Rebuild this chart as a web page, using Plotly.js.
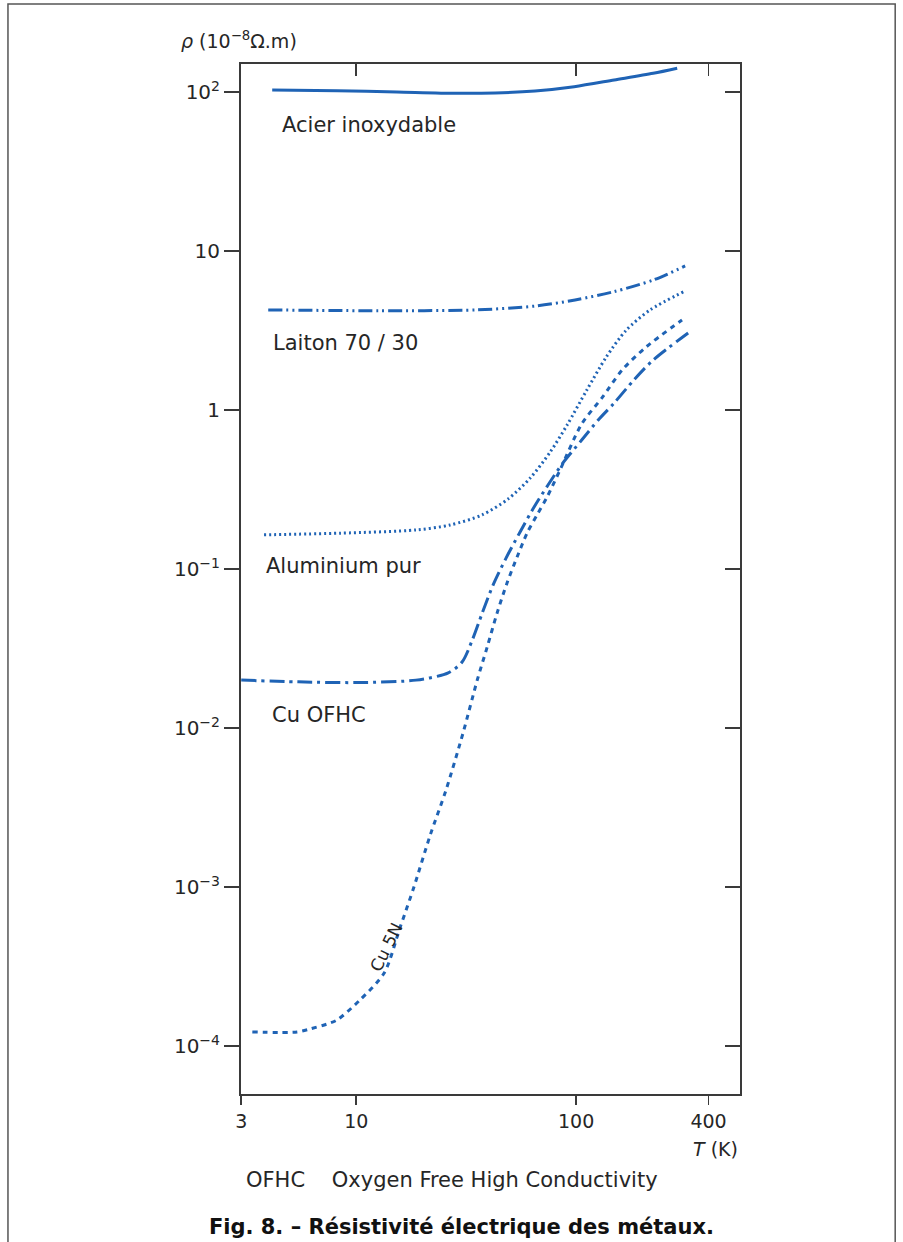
<!DOCTYPE html>
<html>
<head>
<meta charset="utf-8">
<script src="https://cdn.plot.ly/plotly-3.0.1.min.js"></script>
<style>html,body{margin:0;padding:0;background:#fff;}</style>
</head>
<body>
<div id="chart" style="width:903px;height:1242px;"></div>
<script>
// Temperature T (K) and resistivity rho (10^-8 Ohm.m)
const acierT   = [4.15, 8.2, 15.3, 28.5, 42.8, 65, 98, 149, 224, 288];
const acierRho = [103, 101.9, 100, 98.1, 98.6, 101.5, 108, 119, 131, 141];

const laitonT   = [3.98, 12.6, 35.3, 65.5, 98.9, 148.7, 225, 313];
const laitonRho = [4.26, 4.21, 4.26, 4.51, 4.92, 5.55, 6.58, 8.05];

const alT   = [3.81, 8.45, 18.7, 26.7, 37.4, 49.1, 61.8, 76.2, 91, 112, 137, 169, 217, 313];
const alRho = [0.164, 0.168, 0.176, 0.189, 0.219, 0.276, 0.373, 0.544, 0.805, 1.34, 2.15, 3.18, 4.26, 5.6];

const ofhcT   = [3.0, 5.45, 10.1, 18.7, 26.2, 30.3, 33.7, 37.4, 41.9, 48.0, 55.6, 64.4, 74.5, 86.3, 106, 126, 149, 183, 224, 323];
const ofhcRho = [0.0200, 0.0195, 0.0193, 0.0200, 0.0222, 0.026, 0.0357, 0.0528, 0.0792, 0.117, 0.171, 0.2455, 0.3375, 0.457, 0.647, 0.865, 1.107, 1.545, 2.06, 3.05];

const cu5nT   = [3.37, 5.39, 6.17, 7.38, 8.19, 10.4, 13.4, 15.8, 18.3, 21.7, 25.6, 30.6, 35.5, 39.4, 43.7, 48.5, 53.9, 59.8, 66.4, 73.8, 84.5, 106, 132, 162, 208, 303];
const cu5nRho = [1.225e-4, 1.225e-4, 1.28e-4, 1.375e-4, 1.458e-4, 1.946e-4, 2.877e-4, 5.52e-4, 1.0e-3, 2.12e-3, 4.07e-3, 9.3e-3, 0.0200, 0.0323, 0.0528, 0.0816, 0.119, 0.168, 0.219, 0.284, 0.42, 0.817, 1.208, 1.786, 2.49, 3.68];

const xTickVals = [3, 10, 100, 400];
const xTickText = ['3', '10', '100', '400'];
const yTickVals = [1e-4, 1e-3, 1e-2, 1e-1, 1, 10, 100];
const yTickText = ['10<sup>−4</sup>', '10<sup>−3</sup>', '10<sup>−2</sup>', '10<sup>−1</sup>', '1', '10', '10<sup>2</sup>'];

const BLUE = '#1f63b5';
const FONT = 'DejaVu Sans, Liberation Sans, Arial, sans-serif';
const TXT = '#262626';
const XR = [Math.log10(3) - 0.001, 2.745];
const YR = [-4.302, 2.176];

function line(x, y, dash, name) {
  return {x: x, y: y, type: 'scatter', mode: 'lines', name: name,
    line: {color: BLUE, width: 3, dash: dash, shape: 'spline', smoothing: 0.8},
    hoverinfo: 'x+y+name'};
}

const traces = [
  line(acierT, acierRho, 'solid', 'Acier inoxydable'),
  line(laitonT, laitonRho, '14px,4px,2px,4px,2px,4px', 'Laiton 70 / 30'),
  line(alT, alRho, '2px,3px', 'Aluminium pur'),
  line(ofhcT, ofhcRho, '15px,5px,3px,5px', 'Cu OFHC'),
  line(cu5nT, cu5nRho, '5px,5px', 'Cu 5N'),
  {x: [], y: [], xaxis: 'x2', yaxis: 'y2', type: 'scatter', mode: 'lines', showlegend: false, hoverinfo: 'skip'}
];

const axisCommon = {showgrid: false, zeroline: false, showline: true, linecolor: '#3a3a3a', linewidth: 2,
  tickcolor: '#3a3a3a', tickwidth: 1.5};

const layout = {
  width: 903, height: 1242,
  margin: {l: 241, r: 163, t: 64, b: 148},
  paper_bgcolor: '#fff', plot_bgcolor: '#fff',
  showlegend: false,
  font: {family: FONT, color: TXT, size: 19},
  title: {text: '<b>Fig. 8. – Résistivité électrique des métaux.</b>',
    x: 0.511, xref: 'container', xanchor: 'center', y: 0.012, yref: 'container', yanchor: 'middle',
    font: {family: FONT, size: 21, color: '#111'}},
  xaxis: Object.assign({}, axisCommon, {type: 'log', range: XR, tickvals: xTickVals, ticktext: xTickText,
    ticks: 'outside', ticklen: 9, mirror: true, tickfont: {size: 19, color: TXT}}),
  yaxis: Object.assign({}, axisCommon, {type: 'log', range: YR, tickvals: yTickVals, ticktext: yTickText,
    ticks: 'outside', ticklen: 15, mirror: true, tickfont: {size: 20, color: TXT}}),
  xaxis2: Object.assign({}, axisCommon, {type: 'log', range: XR, tickvals: [10, 100, 400], overlaying: 'x', side: 'top',
    ticks: 'inside', ticklen: 12, showticklabels: false}),
  yaxis2: Object.assign({}, axisCommon, {type: 'log', range: YR, tickvals: yTickVals, overlaying: 'y', side: 'right',
    ticks: 'inside', ticklen: 15, showticklabels: false}),
  annotations: [
    {text: '<i>ρ</i> (10<sup>−8</sup>Ω.m)', xref: 'paper', yref: 'paper', x: -0.124, y: 1.0233,
      xanchor: 'left', yanchor: 'middle', showarrow: false, font: {size: 19, color: TXT}},
    {text: '<i>T</i> (K)', xref: 'paper', yref: 'paper', x: 1.0, y: -0.0535,
      xanchor: 'right', yanchor: 'middle', showarrow: false, font: {size: 19, color: TXT}},
    {text: 'OFHC    Oxygen Free High Conductivity', xref: 'paper', yref: 'paper', x: 0.423, y: -0.0835,
      xanchor: 'center', yanchor: 'middle', showarrow: false, font: {size: 21, color: TXT}},
    {text: 'Acier inoxydable', xref: 'paper', yref: 'paper', x: 0.078, y: 0.9408,
      xanchor: 'left', yanchor: 'middle', showarrow: false, font: {size: 21, color: TXT}},
    {text: 'Laiton 70 / 30', xref: 'paper', yref: 'paper', x: 0.060, y: 0.7291,
      xanchor: 'left', yanchor: 'middle', showarrow: false, font: {size: 21, color: TXT}},
    {text: 'Aluminium pur', xref: 'paper', yref: 'paper', x: 0.046, y: 0.5126,
      xanchor: 'left', yanchor: 'middle', showarrow: false, font: {size: 21, color: TXT}},
    {text: 'Cu OFHC', xref: 'paper', yref: 'paper', x: 0.058, y: 0.368,
      xanchor: 'left', yanchor: 'middle', showarrow: false, font: {size: 21, color: TXT}},
    {text: 'Cu 5N', xref: 'paper', yref: 'paper', x: 0.291, y: 0.143, textangle: -64,
      xanchor: 'center', yanchor: 'middle', showarrow: false, font: {size: 17, color: TXT}}
  ],
  shapes: [
    {type: 'rect', xref: 'paper', yref: 'paper', x0: -0.467, x1: 1.311, y0: -0.16, y1: 1.0583,
      line: {color: '#555', width: 1.5}, fillcolor: 'rgba(0,0,0,0)', layer: 'below'}
  ]
};

Plotly.newPlot('chart', traces, layout, {staticPlot: true, displayModeBar: false});
</script>
</body>
</html>
